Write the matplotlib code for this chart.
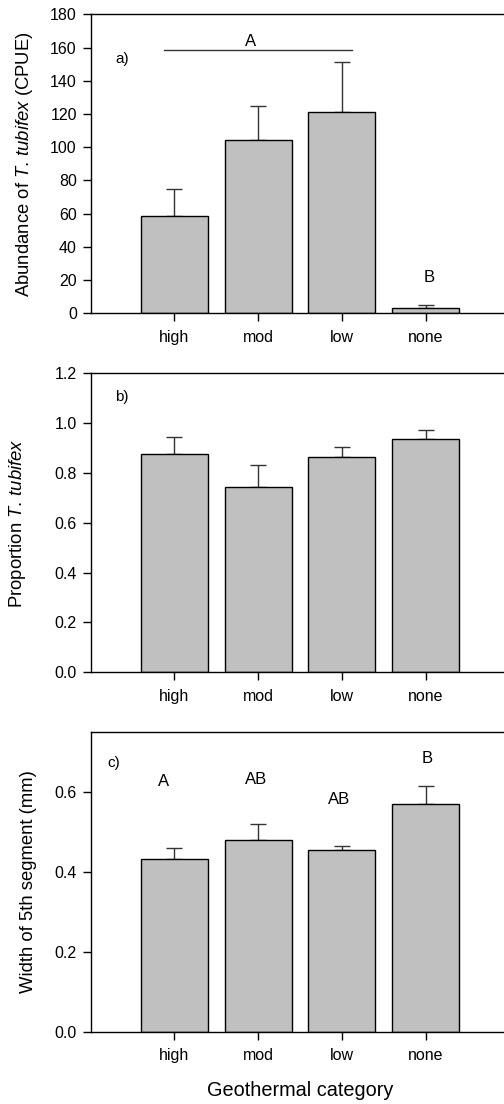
import matplotlib
matplotlib.use("Agg")
import matplotlib.pyplot as plt
import numpy as np

plt.rcParams['font.family'] = ['Liberation Sans', 'DejaVu Sans']
plt.rcParams['mathtext.fontset'] = 'custom'
plt.rcParams['mathtext.rm'] = 'Liberation Sans'
plt.rcParams['mathtext.it'] = 'Liberation Sans:italic'

categories = ["high", "mod", "low", "none"]

abund_mean = [58.6, 104.6, 121.0, 3.0]
abund_err = [16.1, 20.0, 30.3, 2.0]

prop_mean = [0.875, 0.745, 0.863, 0.935]
prop_err = [0.069, 0.087, 0.043, 0.039]

width_mean = [0.432, 0.4805, 0.456, 0.5716]
width_err = [0.027, 0.041, 0.009, 0.043]

letters_c = ["A", "AB", "AB", "B"]
letters_c_y = [0.627, 0.633, 0.582, 0.685]
letters_c_x = [0.87, 1.97, 2.96, 4.02]

W, H = 504, 1104
fig = plt.figure(figsize=(W / 100, H / 100), dpi=100)

left = 90.7 / W
right = 509.5 / W
panels = [(14.3, 313.3), (373.3, 672.3), (732.3, 1031.7)]
axes = []
for top, bot in panels:
    ax = fig.add_axes([left, 1 - bot / H, right - left, (bot - top) / H])
    axes.append(ax)

x = np.arange(1, 5)
bar_kw = dict(width=0.8, color="#c0c0c0", edgecolor="black", linewidth=1.0, zorder=2)
err_kw = dict(fmt="none", ecolor="#333333", elinewidth=1.0, capsize=5.5, capthick=1.0, zorder=1)

TICK_FS = 11.5
LAB_FS = 13.3


def style(ax):
    ax.set_xlim(0, 5)
    ax.set_xticks(x)
    ax.set_xticklabels(categories)
    ax.tick_params(axis="x", direction="out", length=6, width=1, pad=6, labelsize=TICK_FS)
    ax.tick_params(axis="y", direction="out", length=6, width=1, pad=4, labelsize=TICK_FS)
    for s in ax.spines.values():
        s.set_linewidth(1.0)


def ylab(ax, text, xc):
    ax.set_ylabel(text, fontsize=LAB_FS)
    ax.yaxis.label.set_va("center")
    ax.yaxis.set_label_coords(xc, 0.5)


# Panel a
ax = axes[0]
ax.bar(x, abund_mean, **bar_kw)
ax.errorbar(x, abund_mean, yerr=[np.zeros(4), abund_err], **err_kw)
style(ax)
ax.set_ylim(0, 180)
ax.set_yticks(np.arange(0, 181, 20))
ylab(ax, r"Abundance of $\it{T.\,tubifex}$ (CPUE)", -0.157)
ax.plot([0.877, 3.124], [158.5, 158.5], color="#333333", lw=1.0)
ax.text(1.91, 163.6, "A", ha="center", va="center", fontsize=12)
ax.text(4.04, 21.7, "B", ha="center", va="center", fontsize=12)
ax.text(0.29, 153, "a)", ha="left", va="center", fontsize=11)

# Panel b
ax = axes[1]
ax.bar(x, prop_mean, **bar_kw)
ax.errorbar(x, prop_mean, yerr=[np.zeros(4), prop_err], **err_kw)
style(ax)
ax.set_ylim(0, 1.2)
ax.set_yticks(np.arange(0, 1.21, 0.2))
ax.set_yticklabels([f"{v:.1f}" for v in np.arange(0, 1.21, 0.2)])
ylab(ax, r"Proportion $\it{T.\,tubifex}$", -0.1736)
ax.text(0.29, 1.106, "b)", ha="left", va="center", fontsize=11)

# Panel c
ax = axes[2]
ax.bar(x, width_mean, **bar_kw)
ax.errorbar(x, width_mean, yerr=[np.zeros(4), width_err], **err_kw)
style(ax)
ax.set_ylim(0, 0.75)
ax.set_yticks([0.0, 0.2, 0.4, 0.6])
ax.set_yticklabels(["0.0", "0.2", "0.4", "0.6"])
ylab(ax, "Width of 5th segment (mm)", -0.1497)
ax.set_xlabel("Geothermal category", fontsize=14.3)
ax.xaxis.label.set_va("center")
ax.xaxis.set_label_coords(0.4998, -0.195)
for xi, yi, t in zip(letters_c_x, letters_c_y, letters_c):
    ax.text(xi, yi, t, ha="center", va="center", fontsize=12)
ax.text(0.20, 0.673, "c)", ha="left", va="center", fontsize=11)

fig.savefig("out.png", dpi=100)
